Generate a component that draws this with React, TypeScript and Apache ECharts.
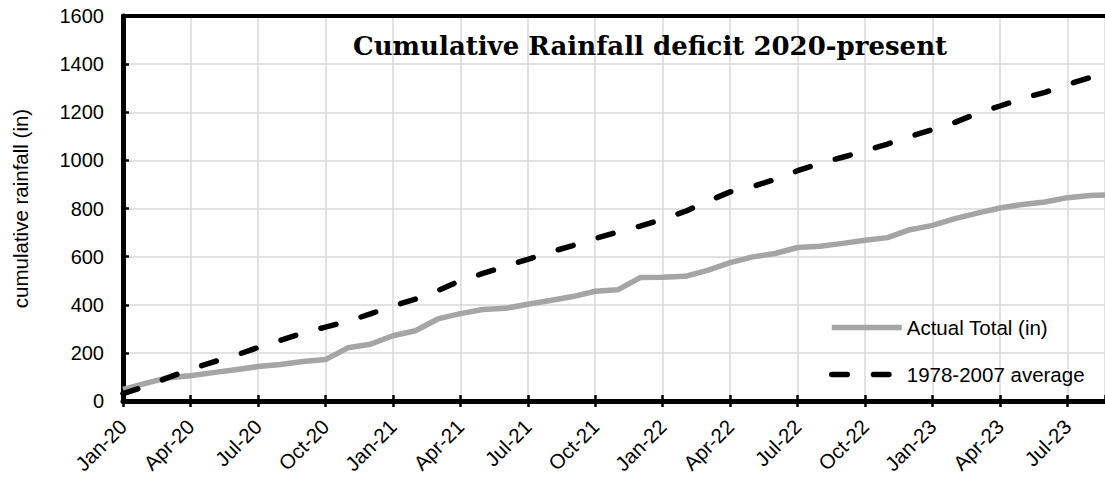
import React, { useEffect, useRef } from "react";
import * as echarts from "echarts";

const monthLabels = [
  "Jan-20", "Feb-20", "Mar-20", "Apr-20", "May-20", "Jun-20", "Jul-20", "Aug-20", "Sep-20", "Oct-20", "Nov-20", "Dec-20",
  "Jan-21", "Feb-21", "Mar-21", "Apr-21", "May-21", "Jun-21", "Jul-21", "Aug-21", "Sep-21", "Oct-21", "Nov-21", "Dec-21",
  "Jan-22", "Feb-22", "Mar-22", "Apr-22", "May-22", "Jun-22", "Jul-22", "Aug-22", "Sep-22", "Oct-22", "Nov-22", "Dec-22",
  "Jan-23", "Feb-23", "Mar-23", "Apr-23", "May-23", "Jun-23", "Jul-23", "Aug-23", "Sep-23",
];

const actualTotal = [
  48, 73, 97, 105, 118, 130, 143, 152, 164, 172, 221, 236,
  271, 292, 341, 363, 380, 385, 402, 418, 434, 456, 462, 513,
  514, 518, 543, 575, 599, 613, 638, 643, 655, 668, 679, 712,
  730, 758, 781, 802, 817, 827, 845, 854, 857,
];

const average19782007 = [
  31, 61, 97, 132, 162, 190, 222, 252, 283, 307, 331, 362,
  395, 423, 459, 500, 530, 560, 589, 619, 646, 675, 702, 727,
  755, 788, 830, 869, 891, 921, 957, 988, 1013, 1040, 1068, 1099,
  1128, 1158, 1196, 1226, 1257, 1283, 1315, 1344, 1375,
];

const seriesNames = ["Actual Total (in)", "1978-2007 average"];
const titleText = "Cumulative Rainfall deficit 2020-present";
const yAxisName = "cumulative rainfall (in)";

export default function App() {
  const ref = useRef<HTMLDivElement>(null);
  useEffect(() => {
    const chart = echarts.init(ref.current!, null, { renderer: "svg" });
    const font = "Arial, 'Liberation Sans', sans-serif";
    const xMax = 43.67;
    const fmt = (v: number) => {
      const r = Math.round(v);
      if (Math.abs(v - r) > 1e-6 || r % 3 !== 0) return "";
      return monthLabels[r] ?? "";
    };
    chart.setOption({
      animation: false,
      backgroundColor: "#ffffff",
      title: {
        text: titleText,
        left: 353,
        top: 33,
        padding: 0,
        textStyle: {
          fontFamily: "'DejaVu Serif', serif",
          fontWeight: "bold",
          fontSize: 26,
          color: "#000",
        },
      },
      legend: {
        orient: "vertical",
        left: 824,
        top: 312,
        itemWidth: 70,
        itemHeight: 20,
        itemGap: 26,
        itemStyle: { opacity: 0 },
        lineStyle: { width: 5.5 },
        textStyle: { fontSize: 20.5, color: "#000", fontFamily: font },
        data: seriesNames,
      },
      grid: { left: 123, right: 0, top: 16, bottom: 76 },
      xAxis: [
        {
          type: "value",
          min: 0,
          max: xMax,
          interval: 3,
          axisLine: { lineStyle: { color: "#000", width: 5 } },
          axisTick: { length: 6, lineStyle: { color: "#000", width: 2.5 } },
          axisLabel: {
            rotate: 45,
            margin: 22,
            fontSize: 20.5,
            color: "#000",
            fontFamily: font,
            formatter: fmt,
            showMaxLabel: false,
          },
          splitLine: { show: true, lineStyle: { color: "#d9d9d9", width: 1.5 } },
        },
        {
          type: "value",
          position: "bottom",
          min: 0,
          max: xMax,
          interval: 3,
          axisLine: { show: false },
          axisTick: { inside: true, length: 6, lineStyle: { color: "#000", width: 2.5 } },
          axisLabel: { show: false },
          splitLine: { show: false },
        },
        {
          type: "value",
          position: "top",
          min: 0,
          max: xMax,
          interval: 3,
          axisLine: { show: true, lineStyle: { color: "#000", width: 4 } },
          axisTick: { show: false },
          axisLabel: { show: false },
          splitLine: { show: false },
        },
      ],
      yAxis: {
        type: "value",
        min: 0,
        max: 1600,
        interval: 200,
        name: yAxisName,
        nameLocation: "middle",
        nameGap: 92,
        nameTextStyle: { fontSize: 20.5, color: "#000", fontFamily: font },
        axisLine: { show: true, lineStyle: { color: "#000", width: 5 } },
        axisTick: { show: true, inside: true, length: 6, lineStyle: { color: "#000", width: 2.5 } },
        axisLabel: {
          fontSize: 20,
          color: "#000",
          fontFamily: font,
          margin: 19,
          formatter: (v: number) => String(v),
        },
        splitLine: { show: true, lineStyle: { color: "#d9d9d9", width: 1.5 } },
      },
      series: [
        {
          name: seriesNames[0],
          type: "line",
          xAxisIndex: 0,
          data: actualTotal.map((v, i) => [i, v]),
          symbol: "none",
          lineStyle: { color: "#a5a5a5", width: 5.5 },
          itemStyle: { color: "#a5a5a5" },
        },
        {
          name: seriesNames[1],
          type: "line",
          xAxisIndex: 0,
          data: average19782007.map((v, i) => [i, v]),
          symbol: "none",
          lineStyle: { color: "#000", width: 5.5, type: [15.5, 26.2], cap: "round" },
          itemStyle: { color: "#000" },
        },
      ],
    });
    return () => chart.dispose();
  }, []);
  return (
    <div
      ref={ref}
      style={{ position: "fixed", left: 0, top: 0, width: 1105, height: 477, background: "#fff" }}
    />
  );
}
